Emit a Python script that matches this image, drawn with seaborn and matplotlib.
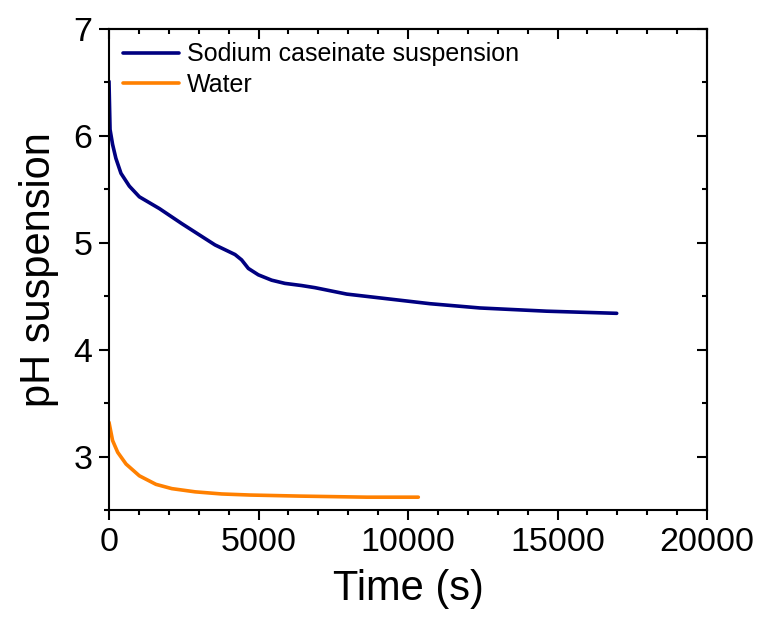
import numpy as np
import pandas as pd
import matplotlib
matplotlib.use("Agg")
import matplotlib.pyplot as plt
import seaborn as sns
from matplotlib.ticker import MultipleLocator

# ---- data ----
casein_t = [0, 35, 120, 230, 400, 680, 1015, 1685, 2430, 3210, 3545,
            4215, 4435, 4660, 4995, 5440, 5885, 6440, 6890, 7950, 10735,
            12410, 14640, 16980]
casein_ph = [6.51, 6.06, 5.92, 5.79, 5.65, 5.53, 5.43, 5.32, 5.18, 5.04,
             4.98, 4.89, 4.84, 4.76, 4.70, 4.65, 4.62, 4.60, 4.58, 4.52, 4.43,
             4.39, 4.36, 4.34]
water_t = [0, 120, 290, 570, 1015, 1570, 2100, 2880, 3770, 4715, 6390,
           8620, 10345]
water_ph = [3.32, 3.15, 3.04, 2.93, 2.82, 2.74, 2.70, 2.67, 2.65, 2.64,
            2.63, 2.62, 2.62]
series_names = ["Sodium caseinate suspension", "Water"]
x_label = "Time (s)"
y_label = "pH suspension"

df = pd.concat([
    pd.DataFrame({"t": casein_t, "pH": casein_ph, "series": series_names[0]}),
    pd.DataFrame({"t": water_t, "pH": water_ph, "series": series_names[1]}),
], ignore_index=True)

sns.set_theme(style="ticks")
plt.rcParams["font.family"] = ["Liberation Sans", "DejaVu Sans"]
plt.rcParams["text.color"] = "black"
plt.rcParams["axes.labelcolor"] = "black"
plt.rcParams["xtick.color"] = "black"
plt.rcParams["ytick.color"] = "black"
plt.rcParams["lines.solid_joinstyle"] = "round"

fig = plt.figure(figsize=(7.57, 6.21), dpi=100)
ax = fig.add_axes([109 / 757, 111 / 621, 598 / 757, 481 / 621])

palette = {series_names[0]: "#000080", series_names[1]: "#FF8000"}
sns.lineplot(data=df, x="t", y="pH", hue="series", palette=palette, ax=ax,
             linewidth=2.6, sort=False, estimator=None)

ax.set_xlim(0, 20000)
ax.set_ylim(2.5, 7)
ax.xaxis.set_major_locator(MultipleLocator(5000))
ax.xaxis.set_minor_locator(MultipleLocator(1000))
ax.yaxis.set_major_locator(MultipleLocator(1))
ax.yaxis.set_minor_locator(MultipleLocator(0.5))

for s in ax.spines.values():
    s.set_linewidth(1.5)
    s.set_color("black")

ax.tick_params(which="both", direction="out", width=1.5, color="black",
               labelsize=24.5, labelcolor="black", top=False, right=False)
ax.tick_params(which="major", length=7)
ax.tick_params(which="minor", length=3.5)
ax.tick_params(axis="y", pad=5)
ax.tick_params(axis="x", pad=5)

# inward ticks on top and right
secx = ax.secondary_xaxis("top")
secx.xaxis.set_major_locator(MultipleLocator(5000))
secx.xaxis.set_minor_locator(MultipleLocator(1000))
secx.tick_params(which="both", direction="in", width=1.5, labeltop=False)
secx.tick_params(which="major", length=7)
secx.tick_params(which="minor", length=3.5)
secy = ax.secondary_yaxis("right")
secy.yaxis.set_major_locator(MultipleLocator(1))
secy.yaxis.set_minor_locator(MultipleLocator(0.5))
secy.tick_params(which="both", direction="in", width=1.5, labelright=False)
secy.tick_params(which="major", length=7)
secy.tick_params(which="minor", length=3.5)
for sa in (secx, secy):
    for s in sa.spines.values():
        s.set_linewidth(1.5)

ax.set_xlabel(x_label, fontsize=30, labelpad=8)
ax.set_ylabel(y_label, fontsize=30, labelpad=10)

handles, labels = ax.get_legend_handles_labels()
ax.legend(handles, labels, loc="upper left", bbox_to_anchor=(0.023, 0.972),
          frameon=False, fontsize=18, borderaxespad=0, borderpad=0,
          handlelength=2.25, handletextpad=0.3, labelspacing=0.26)

fig.savefig("out.png", dpi=100)
